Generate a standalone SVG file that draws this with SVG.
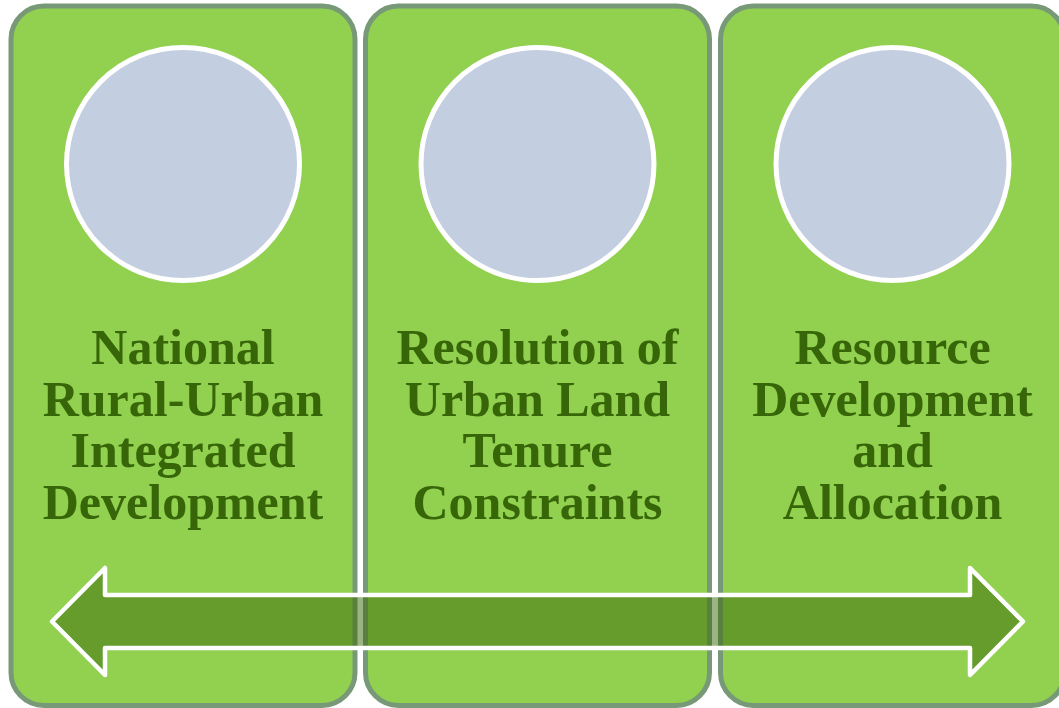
<svg xmlns="http://www.w3.org/2000/svg" width="1059" height="708" viewBox="0 0 1059 708">
  <style>
    .box { fill: #92d050; stroke: #779977; stroke-width: 5; }
    .circ { fill: #c3cee1; stroke: #ffffff; stroke-width: 5; }
    .lbl { font-family: "Liberation Serif", "Times New Roman", serif; font-weight: bold; font-size: 50px; fill: #376609; text-anchor: middle; }
    .arrow { fill: rgb(58,104,8); fill-opacity: 0.5; stroke: #ffffff; stroke-width: 4.5; stroke-linejoin: round; }
  </style>
  <rect width="1059" height="708" fill="#ffffff"/>
  <g id="node1">
    <rect class="box" x="11" y="6" width="344" height="699.5" rx="33" ry="33"/>
    <circle class="circ" cx="183" cy="164" r="116.5"/>
    <text class="lbl" x="183" y="364">National</text>
    <text class="lbl" x="183" y="415.5">Rural-Urban</text>
    <text class="lbl" x="183" y="467">Integrated</text>
    <text class="lbl" x="183" y="518.5">Development</text>
  </g>
  <g id="node2">
    <rect class="box" x="365.5" y="6" width="344" height="699.5" rx="33" ry="33"/>
    <circle class="circ" cx="537.5" cy="164" r="116.5"/>
    <text class="lbl" x="537.5" y="364">Resolution of</text>
    <text class="lbl" x="537.5" y="415.5">Urban Land</text>
    <text class="lbl" x="537.5" y="467">Tenure</text>
    <text class="lbl" x="537.5" y="518.5">Constraints</text>
  </g>
  <g id="node3">
    <rect class="box" x="720.5" y="6" width="344" height="699.5" rx="33" ry="33"/>
    <circle class="circ" cx="892.5" cy="164" r="116.5"/>
    <text class="lbl" x="892.5" y="364">Resource</text>
    <text class="lbl" x="892.5" y="415.5">Development</text>
    <text class="lbl" x="892.5" y="467">and</text>
    <text class="lbl" x="892.5" y="518.5">Allocation</text>
  </g>
  <g id="connectors">
    <path class="arrow" d="M52,621.5 L105,568 L105,595 L970,595 L970,568 L1023,621.5 L970,675 L970,648 L105,648 L105,675 Z"/>
  </g>
</svg>
